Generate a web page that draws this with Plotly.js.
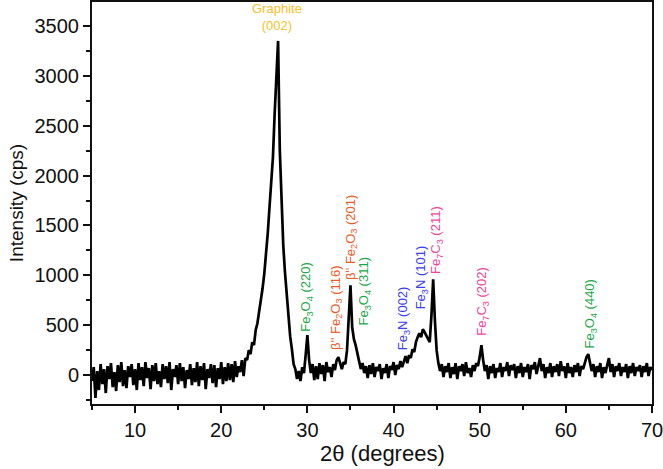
<!DOCTYPE html>
<html>
<head>
<meta charset="utf-8">
<script src="https://cdn.plot.ly/plotly-3.0.1.min.js"></script>
<style>
html,body{margin:0;padding:0;background:#fff;}
#chart{width:663px;height:469px;}
</style>
</head>
<body>
<div id="chart"></div>
<script>
// 2θ starts at 5.0° with a step of 0.2° (x0 / dx handled by Plotly)
const twoThetaStart = 5.0;
const twoThetaStep = 0.2;
const intensity = [
  -60, 80, -230, 40, -150, 110, -90, 60, -180, 90,
  -40, 120, -120, 30, -160, 100, -70, 130, -110, 50,
  -130, 90, -20, 110, -100, 60, -150, 120, -50, 80,
  -110, 130, -30, 70, -140, 100, -60, 120, -90, 40,
  -120, 110, -40, 90, -80, 130, -150, 60, -20, 100,
  -90, 120, -60, 80, -130, 50, -40, 110, -100, 70,
  -70, 130, -110, 90, -50, 120, -140, 60, -30, 110,
  -80, 100, -120, 70, -40, 130, -90, 80, -60, 120,
  -50, 110, -70, 140, -20, 90, 30, 150, -10, 170,
  150, 250, 210, 330, 300, 450, 520, 630, 740, 870,
  1020, 1200, 1420, 1680, 1950, 2180, 2620, 3050, 3350, 2250,
  1650, 1300, 1030, 780, 560, 390, 260, 110, 60, -40,
  40, -60, 80, 20, 200, 400, 150, 20, 110, -50,
  90, -40, 120, 10, 100, -60, 130, 30, 80, -20,
  110, 50, 150, 180, 120, 60, 130, 110, 250, 620,
  900, 480, 360, 300, 200, 140, 60, 120, 20, 90,
  -30, 100, 10, 120, -20, 80, 40, 110, -40, 70,
  20, 110, -30, 90, 50, 130, 0, 100, 60, 140,
  80, 150, 190, 120, 200, 170, 260, 230, 330, 380,
  420, 380, 460, 430, 400, 360, 330, 600, 960, 550,
  250, 120, 40, 110, -20, 90, 30, 120, -30, 80,
  10, 120, -40, 90, 40, 110, -10, 130, 20, 70,
  -20, 100, 40, 120, 90, 180, 300, 150, 40, 100,
  -40, 90, 20, 110, -30, 70, 30, 120, -20, 80,
  40, 130, -10, 100, 50, 110, -30, 90, 20, 120,
  -20, 80, 30, 110, -40, 100, 60, 130, 10, 90,
  170, 40, 110, -30, 80, 20, 120, -20, 90, 30,
  110, -10, 140, 40, 90, -30, 120, 20, 80, -20,
  100, 30, 120, -10, 90, 60, 130, 180, 210, 120,
  40, 110, -20, 90, 30, 120, -30, 80, 20, 100,
  170, 30, 110, -20, 90, 40, 120, -10, 80, 30,
  110, -30, 90, 20, 120, -10, 80, 40, 100, -20,
  90, 30, 120, -10, 80, 50
];

// Peak labels
const peakLabels = [
  'Fe<sub>3</sub>O<sub>4</sub> (220)',
  'β\'\' Fe<sub>2</sub>O<sub>3</sub> (116)',
  'β\'\' Fe<sub>2</sub>O<sub>3</sub> (201)',
  'Fe<sub>3</sub>O<sub>4</sub> (311)',
  'Fe<sub>3</sub>N (002)',
  'Fe<sub>3</sub>N (101)',
  'Fe<sub>7</sub>C<sub>3</sub> (211)',
  'Fe<sub>7</sub>C<sub>3</sub> (202)',
  'Fe<sub>3</sub>O<sub>4</sub> (440)'
];
const peakLabelX = [29.95, 33.3, 35.1, 36.6, 41.1, 43.2, 45.0, 50.4, 62.9];
const peakLabelY = [420, 230, 930, 480, 230, 640, 990, 370, 250];
const peakLabelColor = ['#1BA84A', '#F05A28', '#F05A28', '#1BA84A', '#3C3CF0', '#3C3CF0', '#F0449A', '#F0449A', '#1BA84A'];

const graphiteLabel = 'Graphite<br>(002)';
const graphiteX = 26.5;
const graphiteY = 3410;

const xTickVals = [10, 20, 30, 40, 50, 60, 70];
const yTickVals = [0, 500, 1000, 1500, 2000, 2500, 3000, 3500];
const xTitle = '2θ (degrees)';
const yTitle = 'Intensity (cps)';

const FONT = 'Liberation Sans, Arial, Helvetica, sans-serif';
const INK = '#111';

const annotations = peakLabels.map((t, i) => ({
  text: t, x: peakLabelX[i], y: peakLabelY[i], xref: 'x', yref: 'y',
  xanchor: 'center', yanchor: 'bottom', textangle: -90, showarrow: false,
  font: {family: FONT, size: 13, color: peakLabelColor[i]}
}));
annotations.push({
  text: graphiteLabel, x: graphiteX, y: graphiteY, xref: 'x', yref: 'y',
  xanchor: 'center', yanchor: 'bottom', showarrow: false,
  font: {family: FONT, size: 13, color: '#F7C12B'}
});
// x-axis title placed as annotation (centred slightly right of plot centre, as in the reference)
annotations.push({
  text: xTitle, x: 0.518, y: 0, xref: 'paper', yref: 'paper',
  xanchor: 'center', yanchor: 'top', yshift: -35, showarrow: false,
  font: {family: FONT, size: 22, color: INK}
});

const trace = {
  type: 'scatter', mode: 'lines',
  x0: twoThetaStart, dx: twoThetaStep, y: intensity,
  line: {color: '#000', width: 2.7},
  hoverinfo: 'skip'
};

const layout = {
  width: 663, height: 469,
  margin: {l: 92, r: 11, t: 2, b: 65, pad: 0},
  paper_bgcolor: '#fff', plot_bgcolor: '#fff',
  showlegend: false,
  font: {family: FONT, color: INK},
  xaxis: {
    range: [5, 70], tickmode: 'array', tickvals: xTickVals,
    ticks: 'outside', ticklen: 7, tickwidth: 2, tickcolor: INK,
    minor: {dtick: 5, tick0: 0, ticks: 'outside', ticklen: 4, tickwidth: 2, tickcolor: INK},
    showline: true, linewidth: 2, linecolor: INK, mirror: true,
    showgrid: false, zeroline: false,
    tickfont: {family: FONT, size: 20, color: INK},
    ticklabeloverflow: 'allow',
    automargin: false
  },
  yaxis: {
    range: [-290, 3740], tickmode: 'array', tickvals: yTickVals,
    ticks: 'outside', ticklen: 7, tickwidth: 2, tickcolor: INK,
    minor: {dtick: 250, tick0: 0, ticks: 'outside', ticklen: 4, tickwidth: 2, tickcolor: INK},
    showline: true, linewidth: 2, linecolor: INK, mirror: true,
    showgrid: false, zeroline: false,
    tickfont: {family: FONT, size: 20, color: INK},
    ticklabeloverflow: 'allow',
    title: {text: yTitle, font: {family: FONT, size: 19, color: INK}, standoff: 6},
    automargin: false
  },
  annotations: annotations
};

Plotly.newPlot('chart', [trace], layout, {displayModeBar: false, staticPlot: true});
</script>
</body>
</html>
